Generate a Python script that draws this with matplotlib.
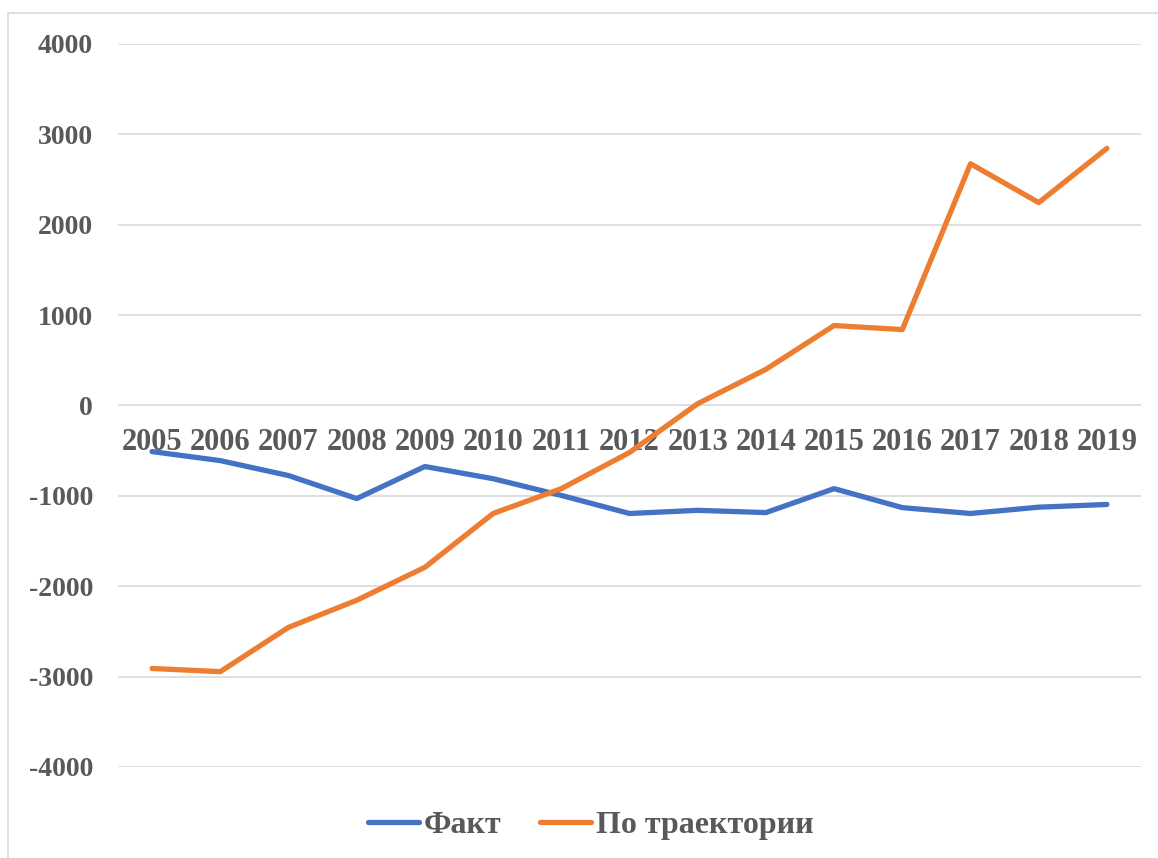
import matplotlib
matplotlib.use("Agg")
import matplotlib.pyplot as plt
from matplotlib.patches import Rectangle

years = ["2005", "2006", "2007", "2008", "2009", "2010", "2011", "2012",
         "2013", "2014", "2015", "2016", "2017", "2018", "2019"]
fact = [-510, -610, -775, -1030, -675, -810, -995, -1195,
        -1160, -1185, -920, -1130, -1195, -1125, -1095]
trajectory = [-2910, -2945, -2455, -2155, -1790, -1195, -920, -520,
              20, 400, 885, 840, 2675, 2245, 2845]
yticks = [-4000, -3000, -2000, -1000, 0, 1000, 2000, 3000, 4000]

plt.rcParams['font.family'] = ['Liberation Serif', 'DejaVu Serif']
plt.rcParams['font.weight'] = 'bold'
txt = '#595959'

W, H = 1158, 858
fig = plt.figure(figsize=(W / 100, H / 100), dpi=100)
ax = fig.add_axes([118 / W, 1 - 767 / H, (1141 - 118) / W, (767 - 44) / H])

x = list(range(len(years)))
ax.plot(x, fact, color='#4472C4', lw=3.8, label='Факт', solid_capstyle='round', zorder=3)
ax.plot(x, trajectory, color='#ED7D31', lw=3.8, label='По траектории', solid_capstyle='round', zorder=3)

ax.set_xlim(-0.5, len(years) - 0.5)
ax.set_ylim(-4000, 4000)
ax.set_yticks(yticks)
ax.set_yticklabels([str(v) for v in yticks])
ax.grid(axis='y', color='#D9D9D9', lw=1.2, zorder=0)
ax.set_xticks(x)
ax.set_xticklabels(years)
for s in ['top', 'right', 'left']:
    ax.spines[s].set_visible(False)
ax.spines['bottom'].set_position(('data', 0))
ax.spines['bottom'].set_visible(False)
ax.tick_params(axis='x', length=0, pad=16, labelsize=22, labelcolor=txt)
ax.tick_params(axis='y', length=0, pad=18, labelsize=20, labelcolor=txt)
for lab in ax.get_xticklabels() + ax.get_yticklabels():
    lab.set_fontweight('bold')

leg = ax.legend(loc='center', bbox_to_anchor=(0.5 + 12 / W, (H - 825) / H), bbox_transform=fig.transFigure,
                ncol=2, frameon=False, fontsize=23, handlelength=1.6, handletextpad=0.15,
                columnspacing=1.2)
for t in leg.get_texts():
    t.set_color(txt)
    t.set_fontweight('bold')

fig.patches.append(Rectangle((8 / W, -0.05), 1.2, 1.05 - 13 / H, transform=fig.transFigure,
                             fill=False, edgecolor='#D9D9D9', lw=1.2))

fig.savefig('out.png', dpi=100)
